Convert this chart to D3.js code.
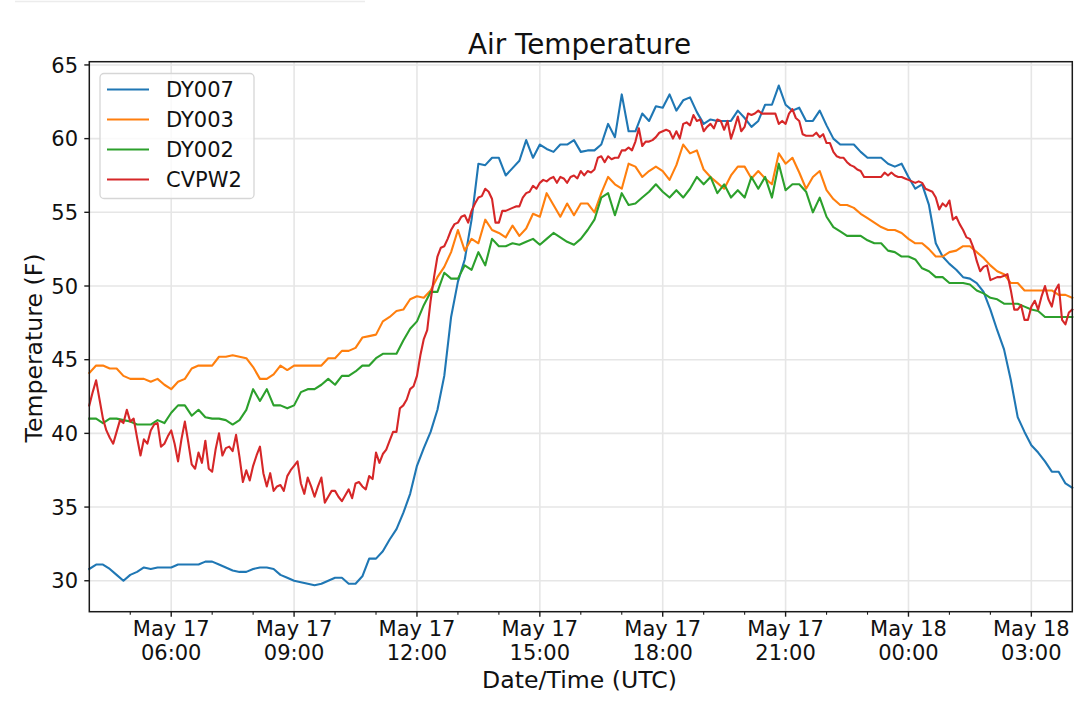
<!DOCTYPE html>
<html>
<head>
<meta charset="utf-8">
<script src="https://cdn.jsdelivr.net/npm/d3@7"></script>
<style>
  body { margin: 0; background: #fff; }
  text { font-family: "DejaVu Sans", sans-serif; fill: #111; }
</style>
</head>
<body>
<div id="chart"></div>
<script>
const width = 1080;
const height = 702;
const margin = { top: 61.7, right: 7.7, bottom: 90.3, left: 89.3 };

// readings every 10 minutes from 04:00 UTC May 17
const dy007 = [
  30.8, 31.1, 31.1, 30.8, 30.4, 30.0, 30.4, 30.6, 30.9, 30.8,
  30.9, 30.9, 30.9, 31.1, 31.1, 31.1, 31.1, 31.3, 31.3, 31.1,
  30.9, 30.7, 30.6, 30.6, 30.8, 30.9, 30.9, 30.8, 30.4, 30.2,
  30.0, 29.9, 29.8, 29.7, 29.8, 30.0, 30.2, 30.2, 29.8, 29.8,
  30.3, 31.5, 31.5, 32.0, 32.8, 33.5, 34.6, 35.9, 37.8, 39.0,
  40.1, 41.6, 43.9, 47.9, 50.3, 51.8, 54.5, 58.3, 58.2, 58.7,
  58.7, 57.5, 58.0, 58.5, 59.9, 58.7, 59.6, 59.3, 59.1, 59.6,
  59.6, 59.9, 59.1, 59.2, 59.2, 59.6, 61.0, 60.1, 63.0, 60.5,
  60.5, 61.7, 61.2, 62.2, 62.1, 63.0, 61.9, 62.6, 62.8, 61.8,
  61.0, 61.3, 61.2, 61.2, 61.2, 61.9, 61.4, 60.8, 61.2, 62.3,
  62.3, 63.6, 62.3, 61.9, 62.1, 61.2, 61.2, 61.9, 60.9, 60.0,
  59.6, 59.6, 59.6, 59.1, 58.7, 58.7, 58.7, 58.3, 58.1, 58.3,
  57.4, 56.6, 56.9, 55.5, 52.9, 52.0, 51.5, 51.1, 50.6, 50.5,
  50.2, 49.6, 48.4, 47.0, 45.7, 43.6, 41.1, 40.1, 39.2, 38.7,
  38.1, 37.4, 37.4, 36.6, 36.3
];

const dy003 = [
  44.1, 44.6, 44.6, 44.4, 44.4, 43.9, 43.7, 43.7, 43.7, 43.5,
  43.7, 43.3, 43.0, 43.5, 43.7, 44.4, 44.6, 44.6, 44.6, 45.2,
  45.2, 45.3, 45.2, 45.1, 44.5, 43.7, 43.7, 44.0, 44.6, 44.3,
  44.6, 44.6, 44.6, 44.6, 44.6, 45.1, 45.1, 45.6, 45.6, 45.8,
  46.5, 46.6, 46.7, 47.6, 47.9, 48.3, 48.4, 49.1, 49.3, 49.2,
  49.7, 50.6, 51.3, 52.3, 53.8, 52.4, 53.2, 52.9, 54.5, 53.8,
  53.6, 53.3, 54.1, 53.4, 53.9, 54.9, 54.7, 56.3, 55.5, 54.7,
  55.6, 54.8, 55.6, 55.6, 55.0, 56.3, 57.4, 56.9, 56.6, 58.3,
  58.1, 57.4, 57.8, 58.1, 57.8, 57.2, 58.2, 59.6, 59.0, 59.2,
  57.9, 57.4, 57.0, 56.6, 57.5, 58.1, 58.1, 57.3, 57.8, 57.3,
  56.9, 59.0, 58.3, 58.7, 57.7, 56.6, 57.4, 57.8, 56.5, 55.9,
  55.5, 55.5, 55.3, 54.9, 54.6, 54.3, 54.0, 53.8, 53.8, 53.6,
  53.2, 52.9, 52.9, 52.5, 52.0, 52.0, 52.3, 52.4, 52.7, 52.7,
  52.3, 51.9, 51.4, 51.0, 50.8, 50.2, 50.2, 49.7, 49.7, 49.7,
  49.7, 49.7, 49.4, 49.4, 49.2
];

const dy002 = [
  41.0, 41.0, 40.7, 41.0, 41.0, 40.9, 40.8, 40.6, 40.6, 40.6,
  40.9, 40.7, 41.4, 41.9, 41.9, 41.2, 41.6, 41.1, 41.0, 41.0,
  40.9, 40.6, 40.9, 41.6, 43.0, 42.2, 43.0, 41.9, 41.9, 41.7,
  41.9, 42.8, 43.0, 43.0, 43.3, 43.7, 43.3, 43.9, 43.9, 44.2,
  44.6, 44.6, 45.1, 45.4, 45.4, 45.4, 46.3, 47.1, 47.6, 48.7,
  49.6, 49.6, 50.9, 50.5, 50.5, 51.4, 51.1, 52.3, 51.4, 53.2,
  52.7, 52.7, 52.9, 52.8, 53.0, 53.2, 52.8, 53.2, 53.6, 53.3,
  53.0, 52.8, 53.2, 53.8, 54.5, 56.0, 56.3, 54.8, 56.3, 55.5,
  55.6, 56.0, 56.4, 56.9, 56.4, 56.0, 56.5, 56.0, 56.6, 57.4,
  56.9, 57.4, 56.3, 56.9, 56.0, 56.5, 56.0, 57.4, 56.6, 57.4,
  56.0, 58.3, 56.5, 56.9, 56.9, 56.4, 55.0, 56.0, 54.7, 54.0,
  53.7, 53.4, 53.4, 53.4, 53.1, 52.9, 52.9, 52.4, 52.3, 52.0,
  52.0, 51.8, 51.2, 51.0, 50.6, 50.6, 50.2, 50.2, 50.2, 50.1,
  49.7, 49.5, 49.2, 49.1, 48.8, 48.8, 48.8, 48.6, 48.4, 48.3,
  47.9, 47.9, 47.9, 47.9, 47.9
];

// CVPW2 reports every 5 minutes
const cvpw2 = [
  41.9, 42.8, 43.6, 42.3, 41.0, 40.2, 39.7, 39.3, 40.1, 40.9,
  40.7, 41.6, 40.8, 41.0, 39.7, 38.5, 39.6, 39.3, 40.2, 40.6,
  40.7, 39.1, 39.3, 39.8, 40.2, 39.3, 38.1, 39.6, 40.8, 39.4,
  37.9, 37.6, 38.7, 38.0, 39.5, 37.6, 37.4, 38.9, 40.0, 38.5,
  39.0, 39.1, 38.8, 39.9, 38.4, 36.7, 37.5, 36.8, 37.8, 38.5,
  39.1, 37.3, 36.4, 37.3, 36.1, 36.4, 36.5, 36.1, 37.1, 37.5,
  37.8, 38.1, 36.6, 35.9, 37.0, 36.4, 35.7, 36.4, 37.0, 35.3,
  35.7, 36.1, 36.1, 35.7, 35.4, 35.8, 36.2, 35.6, 36.6, 36.7,
  36.4, 36.2, 37.1, 36.9, 38.7, 38.0, 38.6, 38.9, 39.5, 40.1,
  40.1, 41.7, 41.9, 42.3, 43.0, 43.2, 43.9, 45.3, 46.4, 47.0,
  49.0, 50.6, 52.0, 52.6, 52.7, 53.2, 53.8, 54.2, 54.3, 54.7,
  54.8, 54.3, 55.1, 55.6, 56.0, 56.1, 56.6, 56.4, 55.9, 54.3,
  54.3, 55.1, 55.1, 55.2, 55.3, 55.4, 55.4, 56.0, 56.3, 56.4,
  56.8, 56.6, 57.0, 57.2, 57.1, 57.3, 57.4, 57.0, 57.4, 57.3,
  57.0, 57.4, 57.5, 57.3, 57.8, 57.5, 57.8, 57.7, 57.9, 58.7,
  58.8, 58.4, 58.8, 58.6, 58.7, 58.7, 59.2, 59.2, 59.4, 59.2,
  59.8, 60.7, 59.5, 59.8, 59.8, 59.9, 60.1, 60.4, 60.5, 60.6,
  60.5, 60.0, 60.5, 60.0, 61.0, 61.1, 60.9, 61.6, 61.2, 61.3,
  60.5, 60.8, 61.0, 60.7, 61.3, 61.2, 60.6, 61.2, 60.0, 60.7,
  61.5, 60.5, 60.8, 61.7, 61.6, 61.7, 61.9, 61.7, 61.7, 61.7,
  61.7, 61.7, 61.0, 61.2, 61.0, 61.7, 62.0, 61.4, 61.2, 60.3,
  60.2, 60.2, 60.2, 60.4, 60.1, 60.3, 59.7, 59.7, 59.1, 58.8,
  58.7, 58.7, 58.4, 58.2, 58.1, 57.9, 57.8, 57.4, 57.4, 57.4,
  57.4, 57.4, 57.4, 57.7, 57.5, 57.7, 57.5, 57.4, 57.4, 57.3,
  57.2, 57.1, 57.0, 57.1, 57.0, 56.6, 56.5, 56.4, 56.0, 55.2,
  55.6, 55.4, 55.8, 54.5, 54.7, 54.2, 53.8, 53.3, 53.2, 52.6,
  51.7, 51.0, 51.3, 51.4, 50.4, 50.5, 50.6, 50.6, 50.7, 50.8,
  49.7, 48.4, 48.4, 48.7, 47.7, 47.7, 48.6, 49.0, 48.4, 49.3,
  50.0, 49.1, 48.6, 49.7, 50.1, 47.7, 47.4, 48.2, 48.4
];

const startTime = new Date(Date.UTC(2019, 4, 17, 4, 0));
const endTime = new Date(Date.UTC(2019, 4, 18, 4, 0));

const series = [
  { name: "DY007", color: "#1f77b4", step: 10, values: dy007 },
  { name: "DY003", color: "#ff7f0e", step: 10, values: dy003 },
  { name: "DY002", color: "#2ca02c", step: 10, values: dy002 },
  { name: "CVPW2", color: "#d62728", step: 5, values: cvpw2 }
];

const yTicks = [30, 35, 40, 45, 50, 55, 60, 65];

const svg = d3.select("#chart")
    .append("svg")
    .attr("width", width)
    .attr("height", height);

// faint strip at the very top of the original screenshot
svg.append("line")
    .attr("x1", 15).attr("x2", 365)
    .attr("y1", 1.5).attr("y2", 1.5)
    .attr("stroke", "#ececec")
    .attr("stroke-width", 1.5);

const x = d3.scaleUtc()
    .domain([startTime, endTime])
    .range([margin.left, width - margin.right]);

const y = d3.scaleLinear()
    .domain([27.9, 65.22])
    .range([height - margin.bottom, margin.top]);

const plotTop = margin.top;
const plotBottom = height - margin.bottom;
const plotLeft = margin.left;
const plotRight = width - margin.right;

const majorTicks = d3.utcHour.every(3).range(d3.utcHour.offset(startTime, 2), endTime);
const minorTicks = d3.utcHour.every(1).range(startTime, d3.utcHour.offset(endTime, 1))
    .filter(d => d.getUTCHours() % 3 !== 0);

// grid
svg.append("g")
    .selectAll("line")
    .data(yTicks)
    .enter()
    .append("line")
    .attr("x1", plotLeft).attr("x2", plotRight)
    .attr("y1", d => y(d)).attr("y2", d => y(d))
    .attr("stroke", "#e6e6e6")
    .attr("stroke-width", 1.6);

svg.append("g")
    .selectAll("line")
    .data(majorTicks)
    .enter()
    .append("line")
    .attr("x1", d => x(d)).attr("x2", d => x(d))
    .attr("y1", plotTop).attr("y2", plotBottom)
    .attr("stroke", "#e6e6e6")
    .attr("stroke-width", 1.6);

// lines
const plot = svg.append("g");
series.forEach(s => {
    const line = d3.line()
        .x((d, i) => x(d3.utcMinute.offset(startTime, i * s.step)))
        .y(d => y(d));
    plot.append("path")
        .datum(s.values)
        .attr("d", line)
        .attr("fill", "none")
        .attr("stroke", s.color)
        .attr("stroke-width", 2.1)
        .attr("stroke-linejoin", "round")
        .attr("stroke-linecap", "square");
});

// spines
svg.append("rect")
    .attr("x", plotLeft)
    .attr("y", plotTop)
    .attr("width", plotRight - plotLeft)
    .attr("height", plotBottom - plotTop)
    .attr("fill", "none")
    .attr("stroke", "#1a1a1a")
    .attr("stroke-width", 1.5);

// x axis ticks
svg.append("g")
    .selectAll("line")
    .data(majorTicks)
    .enter()
    .append("line")
    .attr("x1", d => x(d)).attr("x2", d => x(d))
    .attr("y1", plotBottom).attr("y2", plotBottom + 5)
    .attr("stroke", "#1a1a1a")
    .attr("stroke-width", 1.4);

svg.append("g")
    .selectAll("line")
    .data(minorTicks.filter(d => d > startTime && d < endTime))
    .enter()
    .append("line")
    .attr("x1", d => x(d)).attr("x2", d => x(d))
    .attr("y1", plotBottom).attr("y2", plotBottom + 3)
    .attr("stroke", "#1a1a1a")
    .attr("stroke-width", 1.1);

const fmtDay = d3.utcFormat("%b %d");
const fmtTime = d3.utcFormat("%H:%M");

const xLabels = svg.append("g")
    .selectAll("text")
    .data(majorTicks)
    .enter()
    .append("text")
    .attr("text-anchor", "middle")
    .attr("font-size", "21px");

xLabels.append("tspan")
    .attr("x", d => x(d))
    .attr("y", 636)
    .text(d => fmtDay(d));

xLabels.append("tspan")
    .attr("x", d => x(d))
    .attr("y", 659.5)
    .text(d => fmtTime(d));

// y axis ticks
svg.append("g")
    .selectAll("line")
    .data(yTicks)
    .enter()
    .append("line")
    .attr("x1", plotLeft - 5).attr("x2", plotLeft)
    .attr("y1", d => y(d)).attr("y2", d => y(d))
    .attr("stroke", "#1a1a1a")
    .attr("stroke-width", 1.4);

svg.append("g")
    .selectAll("text")
    .data(yTicks)
    .enter()
    .append("text")
    .attr("x", 78)
    .attr("y", d => y(d) + 7.6)
    .attr("text-anchor", "end")
    .attr("font-size", "21px")
    .text(d => d);

// titles
svg.append("text")
    .attr("x", 579.5)
    .attr("y", 54)
    .attr("text-anchor", "middle")
    .attr("font-size", "27.8px")
    .text("Air Temperature");

svg.append("text")
    .attr("x", 579.5)
    .attr("y", 687.5)
    .attr("text-anchor", "middle")
    .attr("font-size", "23.6px")
    .text("Date/Time (UTC)");

svg.append("text")
    .attr("transform", "translate(42,348) rotate(-90)")
    .attr("text-anchor", "middle")
    .attr("font-size", "23.6px")
    .text("Temperature (F)");

// legend
const legend = svg.append("g");
legend.append("rect")
    .attr("x", 100)
    .attr("y", 73.5)
    .attr("width", 154)
    .attr("height", 125)
    .attr("rx", 4)
    .attr("fill", "#fff")
    .attr("fill-opacity", 0.8)
    .attr("stroke", "#d6d6d6")
    .attr("stroke-width", 1.3);

const items = legend.selectAll("g.item")
    .data(series)
    .enter()
    .append("g")
    .attr("transform", (d, i) => `translate(0,${89.5 + i * 30})`);

items.append("line")
    .attr("x1", 107).attr("x2", 149)
    .attr("y1", 0).attr("y2", 0)
    .attr("stroke", d => d.color)
    .attr("stroke-width", 2.1);

items.append("text")
    .attr("x", 166)
    .attr("y", 7.6)
    .attr("font-size", "21px")
    .text(d => d.name);
</script>
</body>
</html>
